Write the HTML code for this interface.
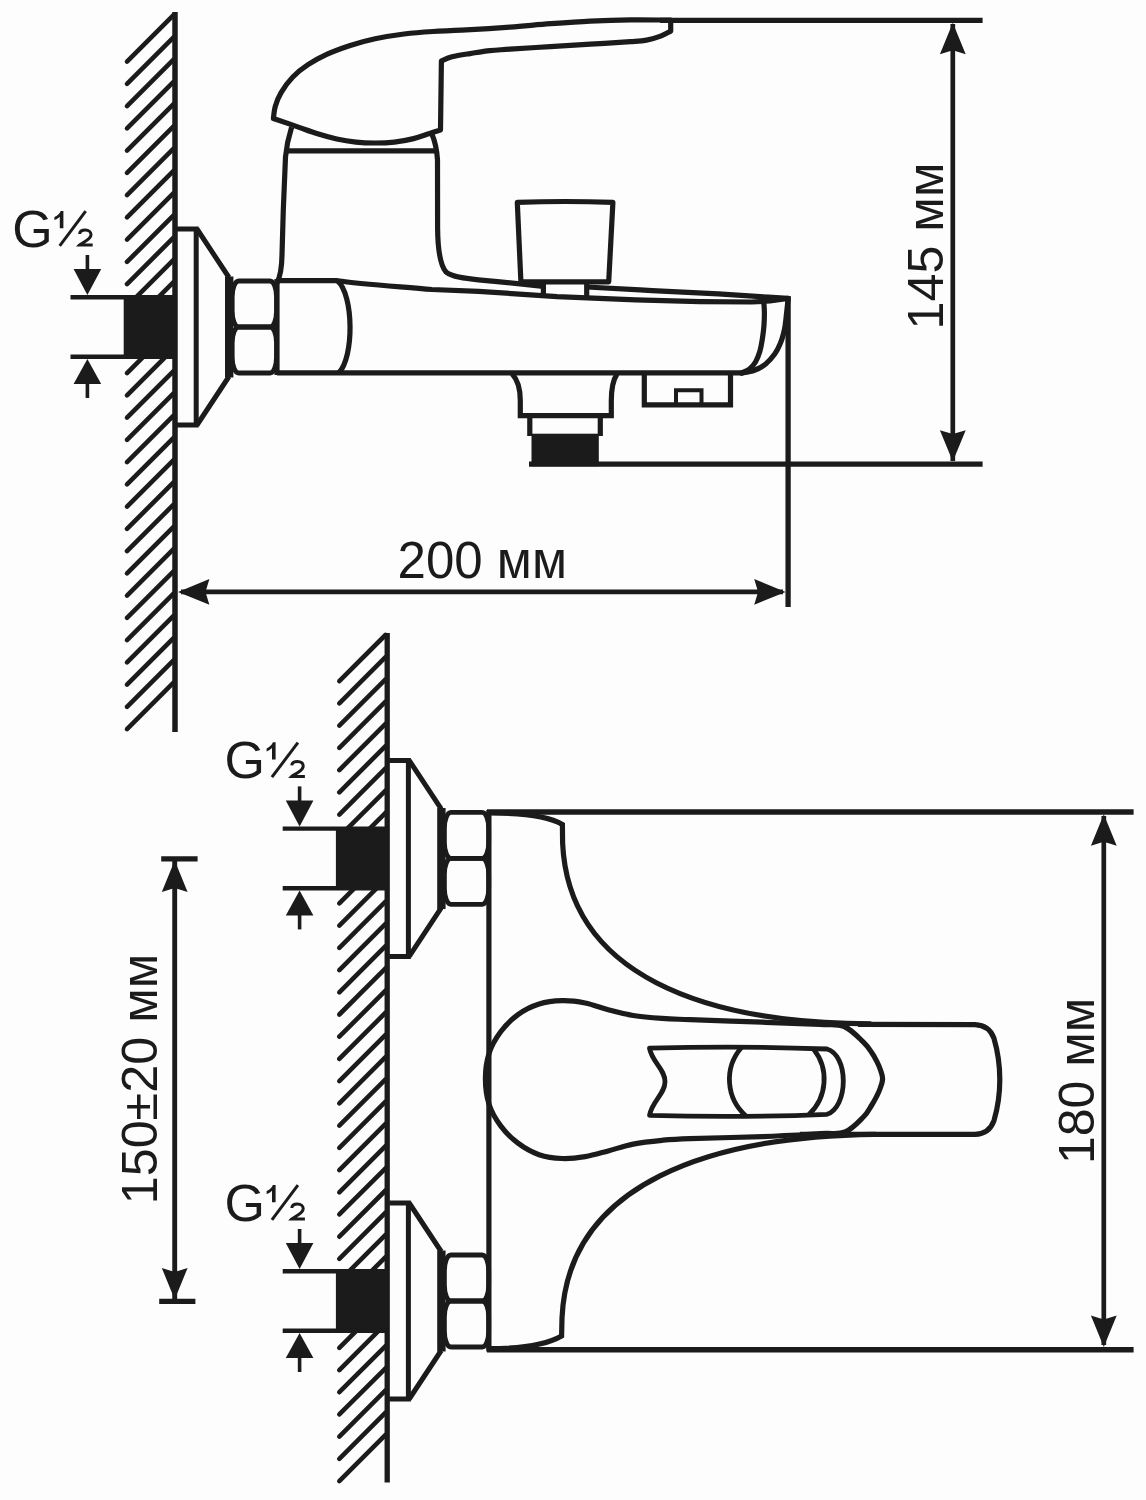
<!DOCTYPE html>
<html><head><meta charset="utf-8"><title>Faucet dimensions</title>
<style>
html,body{margin:0;padding:0;background:#fdfdfd;}
body{width:1146px;height:1500px;overflow:hidden;font-family:"Liberation Sans",sans-serif;}
svg{display:block;}
</style></head><body>
<svg width="1146" height="1500" viewBox="0 0 1146 1500">
<rect width="1146" height="1500" fill="#fdfdfd"/>
<defs>
<g id="fit">
  <!-- relative to wall x=0, centre y=0 -->
  <rect x="-52" y="-31" width="50" height="62" fill="#fdfdfd" stroke="none"/>
  <rect x="-51.3" y="-30" width="51.3" height="60" fill="#1b1b1b" stroke="none"/>
  <line x1="-104.5" y1="-29.8" x2="0" y2="-29.8" stroke-width="4.4"/>
  <line x1="-104.5" y1="29.8" x2="0" y2="29.8" stroke-width="4.4"/>
  <!-- arrows -->
  <line x1="-87.6" y1="-72" x2="-87.6" y2="-50" stroke-width="3.6"/>
  <path d="M-87.6,-32 L-101.4,-58 L-73.8,-58 Z" fill="#1b1b1b" stroke="none"/>
  <line x1="-87.6" y1="71" x2="-87.6" y2="50" stroke-width="3.6"/>
  <path d="M-87.6,32 L-101.4,57 L-73.8,57 Z" fill="#1b1b1b" stroke="none"/>
  <!-- flange -->
  <path d="M2,-98 L21.2,-98 L21.2,98 L2,98" fill="none" stroke-width="5"/>
  <path d="M22,-98 L54,-49.5 M22,98 L54,49.5" fill="none" stroke-width="5"/>
  <line x1="54.2" y1="-50.5" x2="54.2" y2="50.5" stroke-width="8.4"/>
  <!-- nut -->
  <rect x="57.2" y="-46" width="44.3" height="46" rx="6.5" ry="16" fill="none" stroke-width="4.8"/>
  <rect x="57.2" y="0" width="44.3" height="46" rx="6.5" ry="16" fill="none" stroke-width="4.8"/>
  <g stroke="none" fill="#1b1b1b">
    <text x="-162.7" y="-80.5" font-size="52">G</text>
    <path d="M-111.6,-98.8 L-111.6,-116.1 L-114.3,-116.1 C-115.3,-113.5 -117.6,-111.2 -120.6,-110 L-120.6,-107 C-118.6,-107.7 -116.6,-108.9 -115.2,-110.3 L-115.2,-98.8 Z"/>
    <path d="M-95.4,-93 C-95.2,-96 -93,-96.9 -89.7,-96.9 C-86.2,-96.9 -84,-95 -84,-92.4 C-84,-90 -85.5,-88.4 -88.5,-86.4 C-92,-84 -94.6,-83 -95.6,-81.9 L-82.3,-81.9" fill="none" stroke="#1b1b1b" stroke-width="3" stroke-linejoin="miter"/>
  </g>
  <line x1="-89.3" y1="-115.8" x2="-115.3" y2="-81.2" stroke-width="3"/>
</g>
<path id="arr" d="M0,0 L-12.9,31.4 L0,27.5 L12.9,31.4 Z" fill="#1b1b1b" stroke="none"/>
</defs>
<g stroke="#1b1b1b" fill="none" stroke-width="5.2" font-family="Liberation Sans, sans-serif">
<g stroke-width="4.6" stroke-linecap="round">
<line x1="127" y1="61.60" x2="173.5" y2="15.10"/>
<line x1="127" y1="83.85" x2="173.5" y2="37.35"/>
<line x1="127" y1="106.10" x2="173.5" y2="59.60"/>
<line x1="127" y1="128.35" x2="173.5" y2="81.85"/>
<line x1="127" y1="150.60" x2="173.5" y2="104.10"/>
<line x1="127" y1="172.85" x2="173.5" y2="126.35"/>
<line x1="127" y1="195.10" x2="173.5" y2="148.60"/>
<line x1="127" y1="217.35" x2="173.5" y2="170.85"/>
<line x1="127" y1="239.60" x2="173.5" y2="193.10"/>
<line x1="127" y1="261.85" x2="173.5" y2="215.35"/>
<line x1="127" y1="284.10" x2="173.5" y2="237.60"/>
<line x1="127" y1="306.35" x2="173.5" y2="259.85"/>
<line x1="127" y1="328.60" x2="173.5" y2="282.10"/>
<line x1="127" y1="350.85" x2="173.5" y2="304.35"/>
<line x1="127" y1="373.10" x2="173.5" y2="326.60"/>
<line x1="127" y1="395.35" x2="173.5" y2="348.85"/>
<line x1="127" y1="417.60" x2="173.5" y2="371.10"/>
<line x1="127" y1="439.85" x2="173.5" y2="393.35"/>
<line x1="127" y1="462.10" x2="173.5" y2="415.60"/>
<line x1="127" y1="484.35" x2="173.5" y2="437.85"/>
<line x1="127" y1="506.60" x2="173.5" y2="460.10"/>
<line x1="127" y1="528.85" x2="173.5" y2="482.35"/>
<line x1="127" y1="551.10" x2="173.5" y2="504.60"/>
<line x1="127" y1="573.35" x2="173.5" y2="526.85"/>
<line x1="127" y1="595.60" x2="173.5" y2="549.10"/>
<line x1="127" y1="617.85" x2="173.5" y2="571.35"/>
<line x1="127" y1="640.10" x2="173.5" y2="593.60"/>
<line x1="127" y1="662.35" x2="173.5" y2="615.85"/>
<line x1="127" y1="684.60" x2="173.5" y2="638.10"/>
<line x1="127" y1="706.85" x2="173.5" y2="660.35"/>
<line x1="127" y1="729.10" x2="173.5" y2="682.60"/>
</g>
<line x1="175" y1="12" x2="175" y2="732" stroke-width="5.5"/>
<use href="#fit" x="175" y="327"/>
<path stroke-linejoin="round" d="M273.4,118.5 C273.7,116.4 274.1,110.3 275.4,106.0 C276.7,101.7 278.2,97.4 281.1,92.6 C284.0,87.8 288.1,81.8 292.6,77.2 C297.1,72.6 302.2,68.5 308.0,64.7 C313.8,60.9 320.2,57.4 327.2,54.2 C334.2,51.0 342.2,48.1 350.2,45.5 C358.2,42.9 366.2,40.7 375.2,38.8 C384.2,36.9 394.4,35.2 404.0,34.0 C413.6,32.8 423.2,32.1 432.8,31.5 C442.4,30.9 448.7,30.9 461.6,30.2 C474.5,29.5 495.2,28.2 510.0,27.1 C524.8,26.0 536.9,24.7 550.3,23.7 C563.7,22.7 577.0,21.7 590.4,21.1 C603.8,20.5 617.1,20.1 630.5,19.9 C643.9,19.7 664.0,20.1 670.7,20.1 L670.7,31.1 C669.0,31.9 664.6,34.6 660.6,36.1 C656.6,37.6 651.6,39.2 646.6,40.1 C641.6,41.0 639.9,41.0 630.5,41.7 C621.1,42.4 603.8,43.4 590.4,44.2 C577.0,45.0 563.7,45.8 550.3,46.6 C536.9,47.4 520.0,48.5 510.0,49.2 C499.9,49.9 496.7,49.9 490.0,50.6 C483.3,51.3 476.3,52.6 470.0,53.6 C463.7,54.6 456.8,55.6 452.0,56.8 C447.2,58.0 443.2,60.2 441.4,60.9 L440.5,130 C438.6,130.6 433.4,132.4 428.9,133.8 C424.4,135.2 419.4,137.2 413.6,138.6 C407.9,140.0 400.8,141.4 394.4,142.1 C388.0,142.8 381.6,143.0 375.2,143.0 C368.8,143.0 362.4,142.8 356.0,142.1 C349.6,141.4 343.2,140.4 336.8,139.0 C330.4,137.6 324.0,135.8 317.6,133.8 C311.2,131.8 305.8,129.7 298.4,127.1 C291.0,124.5 277.6,119.9 273.4,118.5 Z"/>
<line x1="660" y1="20.3" x2="982.6" y2="20.3" stroke-width="5.2"/>
<path d="M291.6,127.2 C288.5,137 286.5,146 285.5,157 L283.3,210 L282,255 C281.8,268 280.5,276 277,283"/>
<line x1="286" y1="150.8" x2="435" y2="150.8"/>
<path d="M431.5,133 C434.5,140 437,150 437.5,160 L437.6,228 C437.8,250 440,265 446,272 C452,277 465,278.5 478.5,279.8 L500,281.8 L543.4,286.3 M586.7,287 L640,289.8 L652.1,290.6 L718.4,293.9 L768.2,297.2 L788,298.4"/>
<path d="M277,280.7 L337.5,280.7 C360,284 400,286.6 431.8,289.5 L478.5,291.3 L557,296.6 L635.6,299.8 L700,301.6 L751.6,302 L770,301 L788,298.4"/>
<path d="M277,372.9 L743.5,372.9"/>
<line x1="277" y1="279" x2="277" y2="375"/>
<path d="M337.5,280.7 C354,295 354,358 338.8,372.8"/>
<path stroke-linecap="round" d="M788.2,298.4 C787.9,300.8 787.1,308.6 786.6,313.0 C786.1,317.4 785.7,321.5 785.2,325.0 C784.7,328.5 784.2,330.9 783.4,334.0 C782.6,337.1 781.8,340.0 780.4,343.3 C779.0,346.6 777.4,350.3 774.9,353.8 C772.4,357.3 768.8,361.4 765.4,364.2 C762.0,366.9 758.5,368.8 754.5,370.3 C750.5,371.8 743.7,372.6 741.5,373.0"/>
<path stroke-linecap="round" d="M763.8,301.6 C763.9,303.5 764.4,309.1 764.4,313.0 C764.4,316.9 764.3,320.8 764.0,325.0 C763.7,329.2 763.2,333.6 762.5,338.0 C761.8,342.4 761.0,347.5 759.8,351.5 C758.6,355.5 757.2,359.1 755.5,362.0 C753.8,364.9 751.8,367.2 749.5,369.0 C747.2,370.8 742.8,372.3 741.5,373.0"/>
<line x1="788.1" y1="296" x2="788.1" y2="607" stroke-width="5.3"/>
<path stroke-linejoin="round" d="M517.3,202.4 Q565,200.6 612.9,202.4 L608.7,281.8 L520.9,281.8 Z"/>
<path d="M543.4,283 L543.4,295 M586.7,283 L586.7,297"/>
<path d="M512,373.8 C518,380 520.3,390 520.3,401 L520.3,415.6 L611.3,415.6 L611.3,401 C611.3,390 613,380 617,374"/>
<path d="M529.8,416 L529.8,436 M600.3,416 L600.3,436" />
<rect x="531.5" y="433.7" width="67.3" height="32.5" fill="#1b1b1b" stroke="none"/>
<line x1="529" y1="464.2" x2="982.6" y2="464.2" stroke-width="5.3"/>
<path d="M644.3,373 L644.3,404.8 L730.5,404.8 L730.5,373"/>
<path d="M676,404.8 L676,390.3 L701.5,390.3 L701.5,404.8" stroke-width="4"/>
<line x1="952.8" y1="24" x2="952.8" y2="461" stroke-width="4.7"/>
<use href="#arr" x="952.8" y="22.8"/>
<use href="#arr" transform="translate(952.8,461.6) scale(1,-1)"/>
<text transform="translate(942.8,246) rotate(-90)" text-anchor="middle" font-size="50.3" stroke="none" fill="#1b1b1b">145 мм</text>
<line x1="181" y1="591.9" x2="783" y2="591.9" stroke-width="4.7"/>
<use href="#arr" transform="translate(178,591.9) rotate(-90)"/>
<use href="#arr" transform="translate(785.6,591.9) rotate(90)"/>
<text x="482.3" y="577.5" text-anchor="middle" font-size="51" stroke="none" fill="#1b1b1b">200 мм</text>
<g stroke-width="4.6" stroke-linecap="round">
<line x1="339.3" y1="681.20" x2="385.5" y2="635.00"/>
<line x1="339.3" y1="703.42" x2="385.5" y2="657.22"/>
<line x1="339.3" y1="725.64" x2="385.5" y2="679.44"/>
<line x1="339.3" y1="747.86" x2="385.5" y2="701.66"/>
<line x1="339.3" y1="770.08" x2="385.5" y2="723.88"/>
<line x1="339.3" y1="792.30" x2="385.5" y2="746.10"/>
<line x1="339.3" y1="814.52" x2="385.5" y2="768.32"/>
<line x1="339.3" y1="836.74" x2="385.5" y2="790.54"/>
<line x1="339.3" y1="858.96" x2="385.5" y2="812.76"/>
<line x1="339.3" y1="881.18" x2="385.5" y2="834.98"/>
<line x1="339.3" y1="903.40" x2="385.5" y2="857.20"/>
<line x1="339.3" y1="925.62" x2="385.5" y2="879.42"/>
<line x1="339.3" y1="947.84" x2="385.5" y2="901.64"/>
<line x1="339.3" y1="970.06" x2="385.5" y2="923.86"/>
<line x1="339.3" y1="992.28" x2="385.5" y2="946.08"/>
<line x1="339.3" y1="1014.50" x2="385.5" y2="968.30"/>
<line x1="339.3" y1="1036.72" x2="385.5" y2="990.52"/>
<line x1="339.3" y1="1058.94" x2="385.5" y2="1012.74"/>
<line x1="339.3" y1="1081.16" x2="385.5" y2="1034.96"/>
<line x1="339.3" y1="1103.38" x2="385.5" y2="1057.18"/>
<line x1="339.3" y1="1125.60" x2="385.5" y2="1079.40"/>
<line x1="339.3" y1="1147.82" x2="385.5" y2="1101.62"/>
<line x1="339.3" y1="1170.04" x2="385.5" y2="1123.84"/>
<line x1="339.3" y1="1192.26" x2="385.5" y2="1146.06"/>
<line x1="339.3" y1="1214.48" x2="385.5" y2="1168.28"/>
<line x1="339.3" y1="1236.70" x2="385.5" y2="1190.50"/>
<line x1="339.3" y1="1258.92" x2="385.5" y2="1212.72"/>
<line x1="339.3" y1="1281.14" x2="385.5" y2="1234.94"/>
<line x1="339.3" y1="1303.36" x2="385.5" y2="1257.16"/>
<line x1="339.3" y1="1325.58" x2="385.5" y2="1279.38"/>
<line x1="339.3" y1="1347.80" x2="385.5" y2="1301.60"/>
<line x1="339.3" y1="1370.02" x2="385.5" y2="1323.82"/>
<line x1="339.3" y1="1392.24" x2="385.5" y2="1346.04"/>
<line x1="339.3" y1="1414.46" x2="385.5" y2="1368.26"/>
<line x1="339.3" y1="1436.68" x2="385.5" y2="1390.48"/>
<line x1="339.3" y1="1458.90" x2="385.5" y2="1412.70"/>
<line x1="339.3" y1="1481.12" x2="385.5" y2="1434.92"/>
</g>
<line x1="387.2" y1="633" x2="387.2" y2="1482.5" stroke-width="5.3"/>
<use href="#fit" x="387.2" y="858.4"/>
<use href="#fit" x="387.2" y="1301"/>
<line x1="488.9" y1="810" x2="488.9" y2="1351.5" stroke-width="5.2"/>
<line x1="487" y1="812" x2="1133.6" y2="812" stroke-width="5.4"/>
<line x1="487" y1="1349.7" x2="1133.6" y2="1349.7" stroke-width="5.4"/>
<path stroke-linecap="round" d="M489,813 C520,813 548,816 562.4,824.5 L562.6,843 C568.6,975 704,1023.3 870,1023.8"/>
<path stroke-linecap="round" d="M489,1348.6 C520,1348.6 546,1345 561.6,1336 L562,1318 C568,1182 713,1136.3 875,1134.3"/>
<path stroke-linejoin="round" d="M485.4,1078.5 C485.4,1069.9 486.6,1060.8 489.2,1053.0 C491.8,1045.2 495.9,1038.2 500.7,1031.8 C505.5,1025.4 511.6,1019.2 518.0,1014.6 C524.4,1010.0 531.8,1006.3 539.1,1004.0 C546.5,1001.7 554.4,1000.9 562.1,1000.7 C569.8,1000.5 577.5,1001.5 585.2,1003.0 C592.9,1004.5 600.2,1007.7 608.2,1009.8 C616.2,1011.9 624.2,1014.1 633.2,1015.5 C642.2,1016.9 652.5,1017.7 662.0,1018.4 C671.5,1019.1 673.2,1019.0 690.0,1019.6 C706.8,1020.2 740.9,1021.4 762.6,1022.2 C784.3,1023.0 806.4,1023.7 820.0,1024.4 C833.6,1025.1 837.0,1023.5 844.2,1026.5 C851.4,1029.5 858.8,1037.8 863.4,1042.2 C868.0,1046.6 869.8,1049.8 872.0,1053.0 C874.2,1056.2 875.4,1058.7 876.8,1061.4 C878.2,1064.2 879.3,1066.6 880.3,1069.5 C881.3,1072.4 882.6,1075.6 882.6,1078.7 C882.6,1081.8 881.3,1085.1 880.3,1088.0 C879.3,1090.9 878.3,1093.1 876.8,1096.0 C875.3,1098.9 873.7,1102.0 871.5,1105.5 C869.3,1109.0 867.8,1112.6 863.4,1117.0 C859.0,1121.4 852.2,1129.2 845.0,1132.0 C837.8,1134.8 833.7,1132.8 820.0,1133.6 C806.3,1134.4 784.3,1135.8 762.6,1136.6 C740.9,1137.4 706.8,1138.0 690.0,1138.6 C673.2,1139.2 671.5,1139.4 662.0,1140.3 C652.5,1141.2 642.2,1142.3 633.2,1144.1 C624.2,1145.9 616.2,1148.8 608.2,1150.9 C600.2,1153.0 592.9,1155.3 585.2,1156.6 C577.5,1157.9 569.8,1158.8 562.1,1158.5 C554.4,1158.2 546.5,1157.2 539.1,1154.7 C531.8,1152.2 524.4,1148.0 518.0,1143.2 C511.6,1138.4 505.5,1132.3 500.7,1125.9 C495.9,1119.5 491.8,1112.7 489.2,1104.8 C486.6,1096.9 485.4,1087.1 485.4,1078.5 Z"/>
<path stroke-linejoin="round" d="M858,1024.3 L975,1024.6 C985,1025 991,1030 994,1038.4 C998,1052 999.8,1066 999.8,1079.5 C999.8,1093 998,1107 994,1120.6 C991,1129 985,1134 975,1134.4 L800,1134.4"/>
<path stroke-linejoin="round" stroke-width="4.8" d="M649.5,1048.2 Q740,1045.6 827,1049 C837,1052 843.3,1065 843.3,1081 C843.3,1097 837,1111 827,1114.3 Q740,1118 649.5,1115.3 C652,1101 665,1094 665,1081.7 C665,1069 652,1062 649.5,1048.2 Z"/>
<path d="M741.5,1047.5 A48.5,48.5 0 0 0 746,1116" stroke-width="4.8"/>
<path d="M813.5,1049 A48.5,48.5 0 0 1 809,1114.5" stroke-width="4.8"/>
<line x1="1103.8" y1="816" x2="1103.8" y2="1345" stroke-width="4.7"/>
<use href="#arr" x="1103.8" y="814.3"/>
<use href="#arr" transform="translate(1103.8,1347) scale(1,-1)"/>
<text transform="translate(1094,1081) rotate(-90)" text-anchor="middle" font-size="50" stroke="none" fill="#1b1b1b">180 мм</text>
<line x1="174.7" y1="860" x2="174.7" y2="1300" stroke-width="4.9"/>
<line x1="161.2" y1="858.8" x2="197.6" y2="858.8" stroke-width="5.2"/>
<line x1="159.2" y1="1301.3" x2="195.4" y2="1301.3" stroke-width="5.2"/>
<use href="#arr" x="174.7" y="860.6"/>
<use href="#arr" transform="translate(174.7,1299.4) scale(1,-1)"/>
<text transform="translate(157,1079) rotate(-90)" text-anchor="middle" font-size="50.3" stroke="none" fill="#1b1b1b">150±20 мм</text>
</g></svg>
</body></html>
